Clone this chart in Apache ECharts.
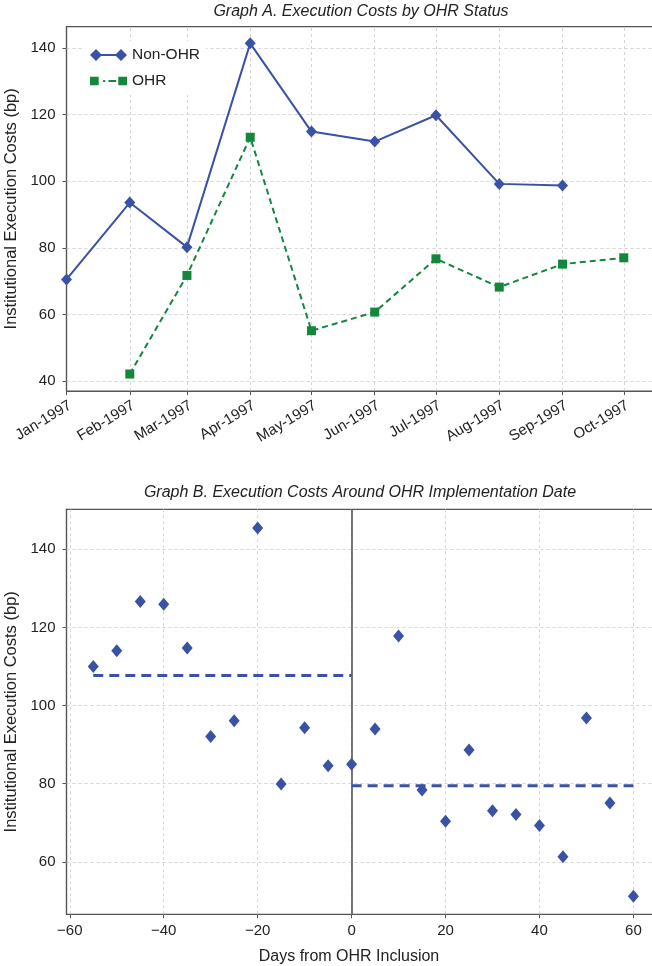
<!DOCTYPE html>
<html>
<head>
<meta charset="utf-8">
<title>Execution Costs</title>
<script src="https://cdn.jsdelivr.net/npm/echarts@6/dist/echarts.min.js"></script>
<style>
  html, body { margin: 0; padding: 0; background: #fff; }
  #chart { width: 652px; height: 966px; }
</style>
</head>
<body>
<div id="chart"></div>
<script>
// Graph A - monthly execution costs (bp)
var months = ['1997-01', '1997-02', '1997-03', '1997-04', '1997-05', '1997-06', '1997-07', '1997-08', '1997-09', '1997-10'];
var nonOhr = [70.5, 93.6, 80.2, 141.4, 114.9, 111.9, 119.8, 99.2, 98.7, null];
var ohr = [null, 42.1, 71.7, 113.2, 55.1, 60.7, 76.7, 68.2, 75.1, 77.0];
var yTicksA = [40, 60, 80, 100, 120, 140];

// Graph B - costs around implementation date
var days = [-55, -50, -45, -40, -35, -30, -25, -20, -15, -10, -5, 0, 5, 10, 15, 20, 25, 30, 35, 40, 45, 50, 55, 60];
var costs = [110.0, 114.0, 126.6, 125.9, 114.7, 92.1, 96.1, 145.4, 79.9, 94.3, 84.6, 85.0, 94.0, 117.8, 78.4, 70.4, 88.6, 73.1, 72.1, 69.3, 61.3, 96.8, 75.1, 51.2];
var preMean = 107.7;
var postMean = 79.5;
var preSpan = [-55, 0];
var postSpan = [0, 60];
var xTicksB = [-60, -40, -20, 0, 20, 40, 60];
var yTicksB = [60, 80, 100, 120, 140];

var MON = ['Jan', 'Feb', 'Mar', 'Apr', 'May', 'Jun', 'Jul', 'Aug', 'Sep', 'Oct', 'Nov', 'Dec'];
function toTime(s) {
  var p = s.split('-');
  return Date.UTC(+p[0], +p[1] - 1, 1);
}
var monthTimes = months.map(toTime);
var DAY = 86400000;

var font = "'Liberation Sans', Arial, sans-serif";
var blue = '#3a52a6';
var green = '#14873c';
var frame = '#555';
var gridStyle = { color: '#c9c9c9', type: [3, 3], width: 0.8 };

// grid lines drawn at the custom tick values
function gridLines(xi, xs, ys) {
  return {
    name: 'grid' + xi, type: 'line', xAxisIndex: xi, yAxisIndex: xi,
    data: [], silent: true, z: 1,
    markLine: {
      silent: true, z: 1, symbol: ['none', 'none'], label: { show: false },
      lineStyle: gridStyle, emphasis: { disabled: true },
      data: xs.map(function (v) { return { xAxis: v }; })
        .concat(ys.map(function (v) { return { yAxis: v }; }))
    }
  };
}

var chart = echarts.init(document.getElementById('chart'), null, { renderer: 'canvas' });

chart.setOption({
  animation: false,
  textStyle: { fontFamily: font },
  title: [
    {
      text: 'Graph A. Execution Costs by OHR Status',
      left: 361, top: 4, padding: 0, textAlign: 'center',
      textStyle: { fontSize: 16, fontStyle: 'italic', fontWeight: 'normal', color: '#222', fontFamily: font }
    },
    {
      text: 'Graph B. Execution Costs Around OHR Implementation Date',
      left: 360, top: 485, padding: 0, textAlign: 'center',
      textStyle: { fontSize: 16, fontStyle: 'italic', fontWeight: 'normal', color: '#222', fontFamily: font }
    },
    {
      text: 'Days from OHR Inclusion',
      left: 349, top: 949, padding: 0, textAlign: 'center',
      textStyle: { fontSize: 16, fontWeight: 'normal', color: '#222', fontFamily: font }
    }
  ],
  legend: {
    orient: 'vertical',
    left: 84, top: 41,
    padding: 6,
    backgroundColor: '#fff',
    itemWidth: 37, itemHeight: 12, itemGap: 10,
    textStyle: { fontSize: 15.5, color: '#222' },
    data: [
      { name: 'Non-OHR', icon: 'path://M0,6L6,0L12,6L6,12ZM10,5L27,5L27,7L10,7ZM25,6L31,0L37,6L31,12Z' },
      { name: 'OHR', icon: 'path://M1,1.5L9,1.5L9,9.5L1,9.5ZM13,4.5L15,4.5L15,6.5L13,6.5ZM18,4.5L25,4.5L25,6.5L18,6.5ZM27,1.5L35,1.5L35,9.5L27,9.5Z' }
    ]
  },
  grid: [
    { left: 66.5, right: -3, top: 26.7, height: 364.3, outerBoundsMode: 'none', containLabel: false, show: true, borderColor: frame, borderWidth: 1.2, backgroundColor: 'transparent' },
    { left: 66.5, right: -3, top: 509.3, height: 405, outerBoundsMode: 'none', containLabel: false, show: true, borderColor: frame, borderWidth: 1.2, backgroundColor: 'transparent' }
  ],
  xAxis: [
    {
      type: 'value', gridIndex: 0,
      min: monthTimes[0], max: monthTimes[9] + 15.3 * DAY,
      axisLine: { show: true, onZero: false, lineStyle: { color: frame, width: 1.2 } },
      axisTick: { show: true, length: 4, lineStyle: { color: frame }, customValues: monthTimes },
      axisLabel: {
        customValues: monthTimes, rotate: 31, margin: 7, fontSize: 15, color: '#222',
        verticalAlign: 'top',
        formatter: function (v) {
          var d = new Date(v);
          return MON[d.getUTCMonth()] + '-' + d.getUTCFullYear();
        }
      },
      splitLine: { show: false }
    },
    {
      type: 'value', gridIndex: 1,
      min: -60.7, max: 64.6,
      axisLine: { show: true, onZero: false, lineStyle: { color: frame, width: 1.2 } },
      axisTick: { show: true, length: 4, lineStyle: { color: frame }, customValues: xTicksB },
      axisLabel: {
        customValues: xTicksB, margin: 9, fontSize: 15, color: '#222',
        formatter: function (v) { return v < 0 ? '\u2212' + Math.abs(v) : String(v); }
      },
      splitLine: { show: false }
    }
  ],
  yAxis: [
    {
      type: 'value', gridIndex: 0,
      min: 37, max: 146.4,
      name: 'Institutional Execution Costs (bp)', nameLocation: 'middle', nameGap: 42,
      nameTextStyle: { fontSize: 16.5, color: '#222' },
      axisLine: { show: true, onZero: false, lineStyle: { color: frame, width: 1.2 } },
      axisTick: { show: true, length: 4, lineStyle: { color: frame }, customValues: yTicksA },
      axisLabel: { customValues: yTicksA, margin: 11, fontSize: 15, color: '#222' },
      splitLine: { show: false }
    },
    {
      type: 'value', gridIndex: 1,
      min: 46.6, max: 150.2,
      name: 'Institutional Execution Costs (bp)', nameLocation: 'middle', nameGap: 42,
      nameTextStyle: { fontSize: 16.5, color: '#222' },
      axisLine: { show: true, onZero: false, lineStyle: { color: frame, width: 1.2 } },
      axisTick: { show: true, length: 4, lineStyle: { color: frame }, customValues: yTicksB },
      axisLabel: { customValues: yTicksB, margin: 11, fontSize: 15, color: '#222' },
      splitLine: { show: false }
    }
  ],
  series: [
    gridLines(0, monthTimes.slice(1), yTicksA),
    gridLines(1, xTicksB, yTicksB),
    {
      name: 'Non-OHR', type: 'line', xAxisIndex: 0, yAxisIndex: 0,
      data: monthTimes.map(function (t, i) { return [t, nonOhr[i]]; }).filter(function (d) { return d[1] != null; }),
      symbol: 'diamond', symbolSize: [11, 12],
      lineStyle: { color: blue, width: 2 },
      itemStyle: { color: blue },
      z: 3
    },
    {
      name: 'OHR', type: 'line', xAxisIndex: 0, yAxisIndex: 0,
      data: monthTimes.map(function (t, i) { return [t, ohr[i]]; }).filter(function (d) { return d[1] != null; }),
      symbol: 'rect', symbolSize: 9,
      lineStyle: { color: green, width: 2, type: [6, 4] },
      itemStyle: { color: green },
      z: 3
    },
    {
      name: 'Costs', type: 'scatter', xAxisIndex: 1, yAxisIndex: 1,
      data: days.map(function (d, i) { return [d, costs[i]]; }),
      symbol: 'diamond', symbolSize: [11, 13],
      itemStyle: { color: blue, opacity: 1 },
      markLine: {
        silent: true, z: 2, symbol: ['none', 'none'], label: { show: false },
        lineStyle: { color: '#555', width: 1.6, type: 'solid' },
        data: [{ xAxis: 0 }]
      },
      z: 3
    },
    {
      name: 'Pre mean', type: 'line', xAxisIndex: 1, yAxisIndex: 1,
      data: [[preSpan[0], preMean], [preSpan[1], preMean]],
      symbol: 'none',
      lineStyle: { color: blue, width: 3, type: [10, 6] },
      z: 3
    },
    {
      name: 'Post mean', type: 'line', xAxisIndex: 1, yAxisIndex: 1,
      data: [[postSpan[0], postMean], [postSpan[1], postMean]],
      symbol: 'none',
      lineStyle: { color: blue, width: 3, type: [10, 6] },
      z: 3
    }
  ]
});
</script>
</body>
</html>
